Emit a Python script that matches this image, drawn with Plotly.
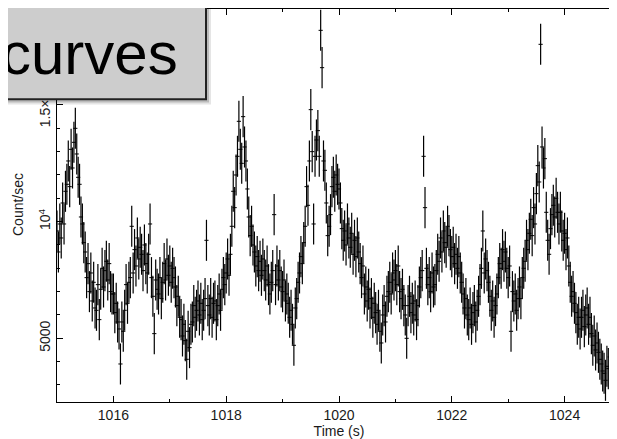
import plotly.graph_objects as go

# ---- data (count rate light curve) ----
t_start = 1015.0
bin_width = 0.025
rate_1015 = [9600, 8700, 9900, 9300, 10800, 9900, 11300, 11600, 12600, 11500, 13100, 12300,
             13400, 14000, 12900, 11900, 11600, 10200, 9900, 9100, 8700, 7600, 8200, 7000,
             7800, 6600, 7400, 6300, 6200, 7300, 5800, 7100, 8000, 7200, 7900, 8300,
             7500, 8200, 7000, 6900]
rate_1016 = [6900, 6100, 6500, 5700, 5400, 3900, 5700, 5300, 6200, 7300, 6500, 7400,
             7600, 9800, 7800, 8800, 8100, 9300, 8400, 8900, 8600, 7900, 9000, 8200,
             7800, 8600, 9900, 7600, 6800, 5200, 7500, 7100, 6900, 7600, 6700, 7400,
             8200, 7500, 8400, 7700]
rate_1017 = [8100, 7400, 8000, 7600, 7200, 6400, 6800, 5900, 5800, 5100, 5600, 4900,
             4100, 5300, 4600, 5600, 5700, 6400, 5900, 6200, 6600, 6000, 6500, 5800,
             6200, 6700, 9200, 6400, 6000, 6700, 5900, 6500, 6600, 5800, 6400, 6900,
             6200, 7100, 7600, 7300]
rate_1018 = [7800, 8400, 7700, 8600, 9800, 11300, 10600, 12000, 12800, 14300, 13100, 12500,
             14500, 13200, 12600, 11400, 10200, 9400, 9800, 9000, 8700, 8100, 8500, 7900,
             8300, 7700, 8400, 7900, 7500, 8100, 7300, 6900, 7400, 7900, 10300, 7300,
             8100, 7500, 7900, 7200]
rate_1019 = [7000, 7500, 6600, 6900, 6500, 5900, 6200, 5600, 4700, 6300, 6700, 7400,
             7800, 8500, 8200, 9100, 9800, 11500, 10700, 12600, 14800, 13000, 9900, 12800,
             13500, 13900, 12800, 18200, 16600, 12600, 12200, 10800, 9400, 9800, 10300, 11500,
             11900, 11300, 12000, 11600]
rate_1020 = [11400, 10800, 9700, 9200, 9600, 9000, 9900, 9300, 8900, 9500, 8600, 9200,
             8500, 9300, 8700, 8200, 7600, 8100, 6900, 7200, 6600, 7100, 6300, 6700,
             5900, 6500, 6100, 5600, 6200, 5300, 4800, 6000, 6400, 5700, 6800, 7000,
             7400, 6900, 7800, 7500]
rate_1021 = [7900, 7300, 8100, 7000, 6700, 7100, 6400, 6000, 5000, 6400, 6800, 6100,
             6500, 6000, 6600, 5800, 6400, 7200, 7600, 7900, 12800, 10600, 8000, 7300,
             7600, 7000, 7800, 7200, 7300, 7900, 8600, 8300, 9300, 8700, 9600, 9100,
             8900, 9800, 9400, 8800]
rate_1022 = [8500, 8900, 8200, 8600, 8000, 8500, 7800, 7400, 6900, 6300, 6700, 6000,
             5800, 6300, 5600, 6100, 6400, 5700, 6200, 6800, 7300, 8000, 9600, 7800,
             8400, 7900, 7400, 6800, 6200, 6600, 5900, 6400, 6900, 7600, 8200, 8000,
             8800, 8300, 8700, 8000]
rate_1023 = [7600, 8100, 5300, 7000, 6600, 6900, 6200, 6700, 7200, 6700, 7600, 8000,
             8300, 9200, 8800, 9500, 10100, 9400, 10600, 9900, 11200, 12400, 11700, 17600,
             13200, 12300, 12700, 10400, 9200, 8600, 9700, 10300, 10700, 10200, 11000, 10400,
             9900, 10400, 9600, 9200]
rate_1024 = [9500, 8800, 9300, 8100, 7400, 6800, 7000, 6500, 6100, 5600, 5900, 5400,
             5900, 6200, 5500, 6000, 6300, 5600, 5900, 5200, 4700, 5100, 4500, 4800,
             4400, 4100, 3900, 3600, 3500, 3200, 3800, 3700, 4200, 4700, 4400, 5000,
             5600, 5900]
rate_error = 880

y_tick_values = [5000, 10000, 15000]
y_tick_labels = ["5000", "10<sup>4</sup>", "1.5×10<sup>4</sup>"]
x_range = [1015.0, 1025.0]
y_range = [2270, 19114]

rates = (rate_1015 + rate_1016 + rate_1017 + rate_1018 + rate_1019 +
         rate_1020 + rate_1021 + rate_1022 + rate_1023 + rate_1024)
times = [round(t_start + bin_width * i, 4) for i in range(len(rates))]

FONT = "Liberation Sans, Arial, Helvetica, sans-serif"
INK = "#000000"
TXT = "#1a1a1a"

fig = go.Figure()
fig.add_trace(go.Scatter(
    x=times, y=rates, mode="markers",
    marker=dict(size=3, symbol="line-ew", color=INK, line=dict(width=1, color=INK)),
    error_y=dict(type="constant", value=rate_error, thickness=1.2, width=0, color=INK),
    hoverinfo="skip", showlegend=False,
))

# The page body has an 8px margin: work in window pixels and convert.
OFF = 8
W, H = 617, 439
ML, MR, MT, MB = 49, 4, 1, 45
PW, PH = W - ML - MR, H - MT - MB


def px(win_x):
    return (win_x - OFF - ML) / PW


def py(win_y):
    return (H - MB - (win_y - OFF)) / PH


fig.update_layout(
    width=W, height=H,
    margin=dict(l=ML, r=MR, t=MT, b=MB, pad=0, autoexpand=False),
    paper_bgcolor="white", plot_bgcolor="white",
    font=dict(family=FONT, color=TXT),
    xaxis=dict(
        range=x_range, tick0=1016, dtick=2, ticks="inside", ticklen=6, tickwidth=1,
        tickcolor="black", showline=True, linecolor="black", linewidth=1, mirror="ticks",
        showgrid=False, zeroline=False, tickfont=dict(size=14, family=FONT, color=TXT),
        minor=dict(dtick=1, tick0=1015, ticks="inside", ticklen=3, tickcolor="black", showgrid=False),
        title=dict(text="Time (s)", font=dict(size=14, family=FONT, color=TXT), standoff=0),
        automargin=False,
    ),
    yaxis=dict(
        range=y_range, tickvals=y_tick_values, ticktext=y_tick_labels, tickangle=-90,
        ticks="inside", ticklen=6, tickwidth=1, tickcolor="black",
        showline=True, linecolor="black", linewidth=1, mirror="ticks",
        showgrid=False, zeroline=False, tickfont=dict(size=14, family=FONT, color=TXT),
        minor=dict(dtick=1000, tick0=0, ticks="inside", ticklen=3, tickcolor="black", showgrid=False),
        automargin=False,
    ),
    showlegend=False,
)

# y-axis title placed as rotated text
fig.add_annotation(
    text="Count/sec", xref="paper", yref="paper", x=px(18), y=py(205),
    xanchor="center", yanchor="middle", textangle=-90, showarrow=False,
    font=dict(size=14, family=FONT, color=TXT),
)

# gray title box with drop shadow (window pixel coordinates)
shapes = [
    dict(type="rect", xref="paper", yref="paper", x0=px(-30), x1=px(211), y0=py(104.5), y1=py(8),
         fillcolor="rgba(0,0,0,0.10)", line=dict(width=0), layer="above"),
    dict(type="rect", xref="paper", yref="paper", x0=px(-30), x1=px(209), y0=py(102.5), y1=py(6),
         fillcolor="rgba(0,0,0,0.18)", line=dict(width=0), layer="above"),
    dict(type="rect", xref="paper", yref="paper", x0=px(-30), x1=px(206), y0=py(99.3), y1=py(-5),
         fillcolor="#cdcdcd", line=dict(color="#222222", width=2), layer="above"),
]
fig.update_layout(shapes=shapes)
fig.add_annotation(
    text="curves", xref="paper", yref="paper", x=px(180), y=py(54),
    xanchor="right", yanchor="middle", showarrow=False,
    font=dict(size=60, family=FONT, color="black"),
)

fig.write_html("out.html")
